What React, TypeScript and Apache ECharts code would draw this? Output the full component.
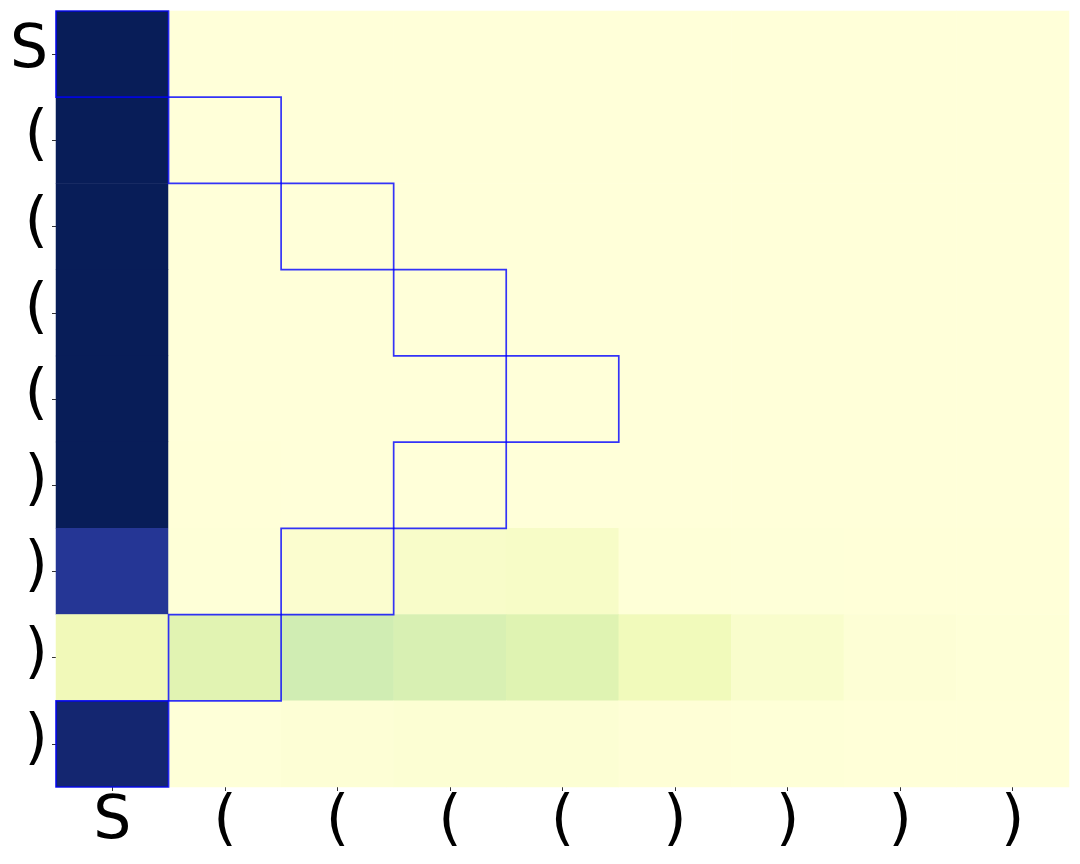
import React, { useEffect, useRef } from "react";
import * as echarts from "echarts";

const xLabels = ["S", "(", "(", "(", "(", ")", ")", ")", ")"];
const yLabels = ["S", "(", "(", "(", "(", ")", ")", ")", ")"];

// matrix values by row (top to bottom), columns left to right
const row0 = [1.0, 0, 0, 0, 0, 0, 0, 0, 0];
const row1 = [1.0, 0, 0, 0, 0, 0, 0, 0, 0];
const row2 = [1.0, 0, 0, 0, 0, 0, 0, 0, 0];
const row3 = [1.0, 0, 0, 0, 0, 0, 0, 0, 0];
const row4 = [1.0, 0, 0, 0, 0, 0, 0, 0, 0];
const row5 = [1.0, 0.002, 0, 0, 0, 0, 0, 0, 0];
const row6 = [0.87, 0.005, 0.03, 0.05, 0.055, 0.006, 0.004, 0.003, 0.002];
const row7 = [0.1, 0.165, 0.22, 0.195, 0.17, 0.095, 0.04, 0.012, 0.005];
const row8 = [0.95, 0.004, 0.012, 0.018, 0.018, 0.01, 0.005, 0.003, 0.003];
const rows = [row0, row1, row2, row3, row4, row5, row6, row7, row8];

// highlighted alignment path: [column, row]
const pathCols = [0, 1, 2, 3, 4, 3, 2, 1, 0];
const pathRows = [0, 1, 2, 3, 4, 5, 6, 7, 8];

const ylgnbu = ["#ffffd9", "#edf8b1", "#c7e9b4", "#7fcdbb", "#41b6c4", "#1d91c0", "#225ea8", "#253494", "#081d58"];

export default function App() {
  const ref = useRef<HTMLDivElement>(null);
  useEffect(() => {
    document.body.style.margin = "0";
    const chart = echarts.init(ref.current!, null, { renderer: "svg" });
    const data: number[][] = [];
    rows.forEach((r, ri) => r.forEach((v, ci) => data.push([ci, ri, v])));
    const pathData = pathCols.map((c, i) => [c, pathRows[i]]);
    const labelStyle = {
      fontSize: 60,
      color: "#000",
      fontFamily: "DejaVu Sans",
    };
    chart.setOption({
      animation: false,
      backgroundColor: "#fff",
      grid: { left: 56, top: 11, width: 1013, height: 776, containLabel: false },
      xAxis: {
        type: "category",
        data: xLabels,
        position: "bottom",
        axisLine: { show: false },
        axisTick: { show: true, length: 4, alignWithLabel: true, lineStyle: { color: "#333", width: 1 } },
        axisLabel: { ...labelStyle, margin: 0, interval: 0 },
        splitLine: { show: false },
      },
      yAxis: {
        type: "category",
        data: yLabels,
        inverse: true,
        axisLine: { show: false },
        axisTick: { show: true, length: 4, alignWithLabel: true, lineStyle: { color: "#333", width: 1 } },
        axisLabel: { ...labelStyle, margin: 8, interval: 0, verticalAlign: "bottom", lineHeight: 16 },
        splitLine: { show: false },
      },
      visualMap: {
        show: false,
        min: 0,
        max: 1,
        dimension: 2,
        seriesIndex: 0,
        inRange: { color: ylgnbu },
      },
      series: [
        {
          type: "heatmap",
          data,
          itemStyle: { borderWidth: 0 },
          emphasis: { disabled: true },
        },
        {
          type: "custom",
          data: pathData,
          z: 10,
          renderItem: (params: any, api: any) => {
            const c = api.coord([api.value(0), api.value(1)]);
            const s = api.size([1, 1]);
            return {
              type: "rect",
              shape: { x: c[0] - s[0] / 2, y: c[1] - s[1] / 2, width: s[0], height: s[1] },
              style: { fill: "none", stroke: "rgba(0,0,255,0.8)", lineWidth: 1.7 },
            };
          },
        },
      ],
    });
    return () => chart.dispose();
  }, []);
  return <div ref={ref} style={{ width: 1080, height: 864 }} />;
}
